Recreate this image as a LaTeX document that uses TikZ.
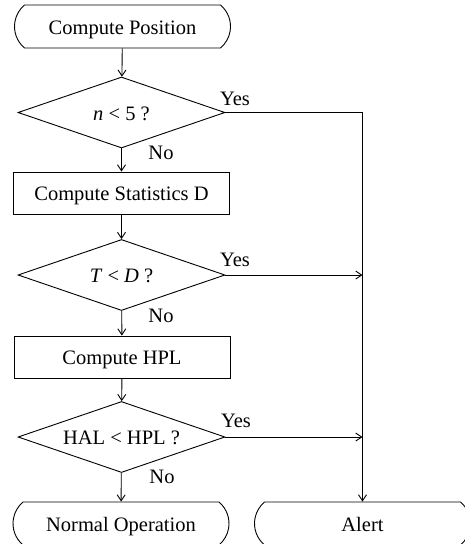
\documentclass[tikz,border=0pt]{standalone}
\usepackage{fontspec}
\setmainfont{Liberation Serif}
\usetikzlibrary{shapes.geometric,shapes.misc,arrows.meta}
\begin{document}
\begin{tikzpicture}[x=1pt,y=-1pt,
  every node/.style={font=\fontsize{20.5}{24}\selectfont},
  line/.style={line width=0.9pt},
  arr/.style={line, -{Straight Barb[length=6pt,width=8pt,line width=0.9pt]}},
  txt/.style={text height=17pt, text depth=2pt},
  term/.style={draw, line width=0.9pt, rounded rectangle, rounded rectangle arc length=100, minimum width=216pt, minimum height=43pt, inner sep=0pt, txt},
  proc/.style={draw, line width=0.9pt, rectangle, minimum width=216pt, minimum height=42pt, inner sep=0pt, txt},
  dec/.style={draw, line width=0.9pt, diamond, aspect=2.9, minimum width=207pt, minimum height=71pt, inner sep=0pt, txt},
  lbl/.style={inner sep=0pt}]
\useasboundingbox (0,0) rectangle (465,544);
\node[term] (start) at (122.5,26.5) {Compute Position};
\node[dec] (d1) at (121.5,112.5) {\textit{n} < 5 ?};
\node[proc] (p1) at (121.5,193) {Compute Statistics D};
\node[dec] (d2) at (121.5,275) {\textit{T} < \textit{D} ?};
\node[proc] (p2) at (122,357) {Compute HPL};
\node[dec] (d3) at (121.5,437) {HAL < HPL ?};
\node[term] (normal) at (121,523.5) {Normal Operation};
\node[term] (alert) at (362.5,523.5) {Alert};
\coordinate (c1) at (362.5,112.5);
\coordinate (j2) at (362.5,275);
\coordinate (j3) at (362.5,437);
\node[lbl] (y1) at (235,99) {Yes};
\node[lbl] (y2) at (235,260) {Yes};
\node[lbl] (y3) at (236,421) {Yes};
\node[lbl] (n1) at (161,153) {No};
\node[lbl] (n2) at (161,316) {No};
\node[lbl] (n3) at (162,477) {No};
\draw[arr] (start) -- (d1);
\draw[arr] (d1) -- (p1);
\draw[arr] (p1) -- (d2);
\draw[arr] (d2) -- (p2);
\draw[arr] (p2) -- (d3);
\draw[arr] (d3) -- (normal);
\draw[arr] (d1.east) -- (c1) -- (alert.north);
\draw[arr] (d2.east) -- (j2);
\draw[arr] (d3.east) -- (j3);
\end{tikzpicture}
\end{document}
